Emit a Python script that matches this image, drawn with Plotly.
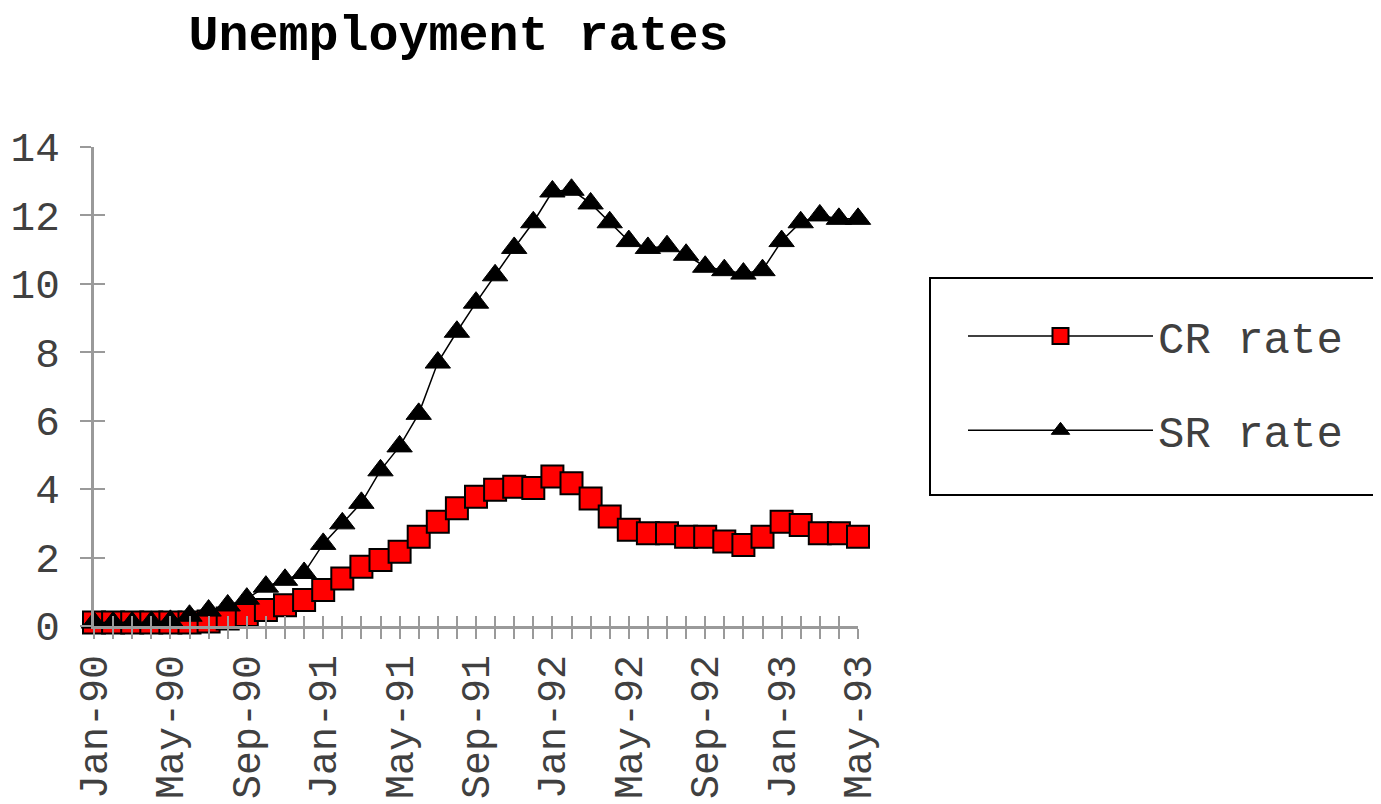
import plotly.graph_objects as go

months = ["Jan-90","Feb-90","Mar-90","Apr-90","May-90","Jun-90","Jul-90","Aug-90","Sep-90","Oct-90","Nov-90","Dec-90",
          "Jan-91","Feb-91","Mar-91","Apr-91","May-91","Jun-91","Jul-91","Aug-91","Sep-91","Oct-91","Nov-91","Dec-91",
          "Jan-92","Feb-92","Mar-92","Apr-92","May-92","Jun-92","Jul-92","Aug-92","Sep-92","Oct-92","Nov-92","Dec-92",
          "Jan-93","Feb-93","Mar-93","Apr-93","May-93"]
cr_rate = [0.1, 0.1, 0.1, 0.1, 0.1, 0.1, 0.13, 0.22, 0.32, 0.47, 0.61, 0.76,
           1.05, 1.39, 1.73, 1.93, 2.17, 2.61, 3.05, 3.44, 3.78, 3.98, 4.07, 4.03,
           4.37, 4.17, 3.73, 3.2, 2.81, 2.71, 2.71, 2.61, 2.61, 2.47, 2.37, 2.61,
           3.05, 2.95, 2.71, 2.71, 2.61]
sr_rate = [0.1, 0.1, 0.1, 0.12, 0.15, 0.3, 0.45, 0.6, 0.8, 1.15, 1.35, 1.55,
           2.4, 3.0, 3.6, 4.55, 5.25, 6.2, 7.7, 8.6, 9.45, 10.25, 11.05, 11.8,
           12.7, 12.75, 12.35, 11.8, 11.25, 11.05, 11.1, 10.85, 10.5, 10.4, 10.3, 10.4,
           11.25, 11.8, 12.0, 11.9, 11.9]
tick_labels = [m if i % 4 == 0 else "" for i, m in enumerate(months)]
y_ticks = [0, 2, 4, 6, 8, 10, 12, 14]

MONO = "Liberation Mono, Courier New, monospace"
AX = "#9a9a9a"
W, H = 1373, 796

# legend frame (left, top, bottom edges; right edge runs off the page)
bx0 = (922 - 86) / 764
bx1 = (1420 - 86) / 764
by0 = (618 - 487) / 479
by1 = (618 - 270) / 479
frame_path = f"M {bx1},{by1} L {bx0},{by1} L {bx0},{by0} L {bx1},{by0}"

fig = go.Figure()
fig.add_trace(go.Scatter(
    x=months, y=cr_rate, name="CR rate", mode="lines+markers",
    line=dict(color="black", width=1.5),
    marker=dict(symbol="square", size=22, color="#ff0000", line=dict(color="black", width=2)),
    cliponaxis=False, legendgroup="a"))
fig.add_trace(go.Scatter(
    x=months, y=sr_rate, name="SR rate", mode="lines+markers",
    line=dict(color="black", width=1.5),
    marker=dict(symbol="triangle-up", size=22, color="black", line=dict(color="black", width=1)),
    cliponaxis=False, xaxis="x2", yaxis="y2", legendgroup="b"))

fig.update_layout(
    width=W, height=H,
    margin=dict(l=86, r=W - 850, t=139, b=H - 618, autoexpand=False),
    paper_bgcolor="white", plot_bgcolor="white",
    title=dict(text="<b>Unemployment rates</b>", x=0.477, xref="paper", xanchor="center",
               y=1 - 24 / H, yref="container", yanchor="middle",
               font=dict(family=MONO, size=50, color="black")),
    xaxis=dict(type="category", categoryorder="array", categoryarray=months,
               range=[0, 40], tickmode="array", tickvals=months, ticktext=tick_labels,
               tickangle=-90, ticks="outside", ticklen=10, tickwidth=2, tickcolor=AX,
               showline=True, linecolor=AX, linewidth=3, showgrid=False, zeroline=False,
               tickfont=dict(family=MONO, size=40, color="#404040")),
    xaxis2=dict(type="category", categoryorder="array", categoryarray=months,
                range=[0, 40], overlaying="x", anchor="y2", side="bottom",
                tickmode="array", tickvals=months, ticktext=[""] * len(months),
                ticks="inside", ticklen=10, tickwidth=2, tickcolor=AX,
                showline=False, showgrid=False, zeroline=False, showticklabels=False),
    yaxis=dict(range=[0, 14], tickmode="array", tickvals=y_ticks,
               ticks="outside", ticklen=11, tickwidth=2, tickcolor=AX,
               showline=True, linecolor=AX, linewidth=3, showgrid=False, zeroline=False,
               ticklabelstandoff=12,
               tickfont=dict(family=MONO, size=41, color="#404040")),
    yaxis2=dict(range=[0, 14], overlaying="y", anchor="x2", side="left",
                tickmode="array", tickvals=y_ticks,
                ticks="inside", ticklen=11, tickwidth=2, tickcolor=AX,
                showline=False, showgrid=False, zeroline=False, showticklabels=False),
    legend=dict(x=(955 - 86) / 764, xanchor="left", y=(618 - 293) / 479, yanchor="top",
                borderwidth=0, bgcolor="rgba(0,0,0,0)",
                font=dict(family=MONO, size=44, color="#404040"),
                itemwidth=185, tracegroupgap=34, traceorder="grouped"),
    shapes=[dict(type="path", xref="paper", yref="paper", path=frame_path,
                 line=dict(color="black", width=2), layer="below")],
    showlegend=True,
)

fig.write_html("out.html")
